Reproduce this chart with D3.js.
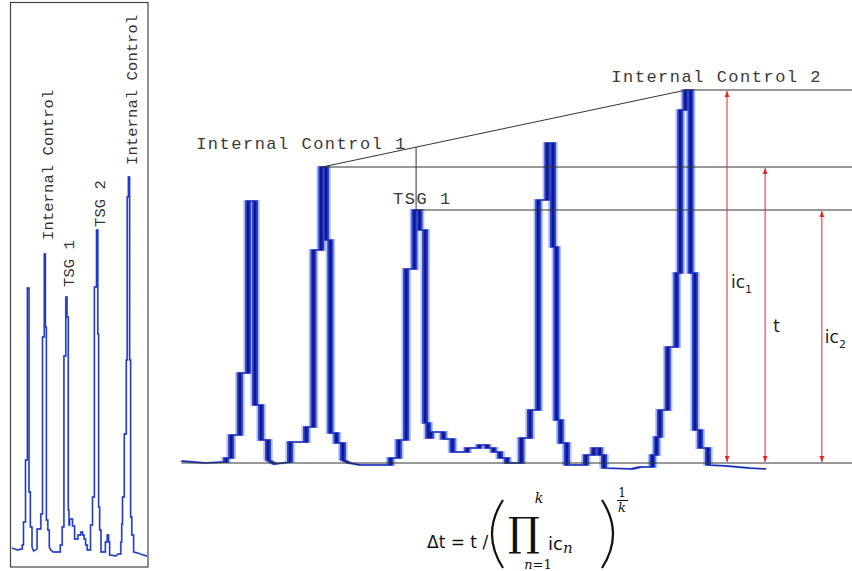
<!DOCTYPE html>
<html>
<head>
<meta charset="utf-8">
<script src="https://cdn.jsdelivr.net/npm/d3@7"></script>
<style>
  body { margin: 0; background: #fff; }
</style>
</head>
<body>
<svg width="852" height="571"></svg>
<script>
// ---- data (scan index vs signal) ----
const scan = [0, 5.5, 9.4, 10.3, 10.3, 11.5, 11.5, 13.5, 13.5, 15.4, 15.4, 17.0, 17.0, 18.4, 18.4, 20.0, 20.0, 21.6, 23.5,
  25.1, 25.1, 28.8, 28.8, 30.5, 30.5, 32.3, 32.3, 33.4, 33.4, 34.4, 34.4, 35.8, 35.8, 37.3, 37.3, 38.8, 41.3,
  48.3, 48.3, 50.2, 50.2, 51.9, 51.9, 53.8, 53.8, 55.0, 55.0, 56.3, 56.3, 57.0, 57.0, 57.6, 57.6, 60.5, 60.5,
  62.6, 62.6, 66.0, 66.0, 68.8, 68.8, 70.6, 70.6, 72.1, 72.1, 73.6, 73.6, 75.2, 75.2, 78.5,
  78.5, 80.5, 80.5, 82.4, 82.4, 84.5, 84.5, 85.8, 85.8, 86.6, 86.6, 87.6, 87.6, 89.0, 89.0, 93.4, 93.4, 95.2, 95.2,
  96.6, 96.6, 97.6, 97.6, 104, 106, 108.8, 108.8, 109.7, 109.7, 110.5, 110.5, 112.3, 112.3, 114.3, 114.3,
  115.2, 115.2, 116.4, 116.4, 117.6, 117.6, 118.6, 118.6, 119.8, 119.8, 121.6, 121.6, 126, 131, 135];
const signal = [2, 0, 1, 1, 5, 5, 28, 28, 90, 90, 262, 262, 58, 58, 23, 23, 3, -1, 0,
  1, 21, 21, 36, 36, 213, 213, 296, 296, 223, 223, 30, 30, 20, 20, 3, 0, -2,
  -2, 5, 5, 23, 23, 194, 194, 253, 253, 233, 233, 40, 40, 25, 25, 31, 31, 24,
  24, 11, 11, 15, 15, 18, 18, 15, 15, 11, 11, 5, 5, 0, 0,
  25, 25, 53, 53, 263, 263, 320, 320, 216, 216, 43, 43, 20, 20, -2, -2, 8, 8, 15,
  15, 8, 8, -5, -6, -4, -4, 8, 8, 26, 26, 53, 53, 116, 116, 190,
  190, 353, 353, 373, 373, 190, 190, 33, 33, 15, 15, -2, -3, -5, -6];

// peaks named in the inset
const insetNames = ["Internal Control", "TSG 1", "TSG 2", "Internal Control"];
const insetScan = [32.5, 54.0, 84.8, 116.6];
const insetTop = [296, 253, 320, 373];

// peaks named in the main panel
const mainNames = ["Internal Control 1", "TSG 1", "Internal Control 2"];
const mainScan = [32.5, 54.2, 116.6];
const mainTop = [296, 253, 373];

// measured heights (red arrows)
const arrowNames = ["ic", "t", "ic"];
const arrowSubs = ["1", "", "2"];
const arrowScan = [126.0, 134.8, 147.9];
const arrowTop = [373, 296, 253];

const trace = scan.map((s, i) => [s, signal[i]]);

const svg = d3.select("svg");
const W = 852;

// scales
const xIn = d3.scaleLinear().domain([0, 135]).range([12, 147]);
const yIn = d3.scaleLinear().domain([0, 400]).range([550, 150]);
const xMain = d3.scaleLinear().domain([0, 135]).range([181.4, 766]);
const yMain = d3.scaleLinear().domain([0, 400]).range([463, 63]);
const k = (xMain(135) - xMain(0)) / (xIn(135) - xIn(0));

const lineIn = d3.line().x(d => xIn(d[0])).y(d => yIn(d[1]));
const lineMainRaw = d3.line().x(d => xIn(d[0])).y(d => yMain(d[1]));

// ===== inset =====
svg.append("rect")
  .attr("x", 10.5).attr("y", 2.5).attr("width", 137.5).attr("height", 564.5)
  .attr("fill", "none").attr("stroke", "#444").attr("stroke-width", 1.2);

const layers = [["#a9b9f2", 2.0], ["#2a4ddc", 1.3], ["#1a1a90", 0.4]];
layers.forEach(([c, w]) => {
  svg.append("path").datum(trace).attr("d", lineIn)
    .attr("fill", "none").attr("stroke", c).attr("stroke-width", w);
});

const insetDy = [-14, -10, -3, -12];
insetNames.forEach((n, i) => {
  const x = xIn(insetScan[i]) + 8, y = yIn(insetTop[i]) + insetDy[i];
  svg.append("text")
    .attr("transform", `translate(${x},${y}) rotate(-90)`)
    .style("font-family", "'Liberation Mono', 'Courier New', monospace")
    .style("font-size", "15.5px").style("letter-spacing", "0.1px")
    .attr("fill", "#333").text(n);
});

// ===== main panel =====
const gm = svg.append("g")
  .attr("transform", `translate(${xMain(0) - k * xIn(0)},0) scale(${k},1)`);
[["#b4c2f4", 2.2], ["#2846d8", 1.4], ["#16168a", 0.6]].forEach(([c, w]) => {
  gm.append("path").datum(trace).attr("d", lineMainRaw)
    .attr("fill", "none").attr("stroke", c).attr("stroke-width", w);
});

const ink = "#333";
// baseline
svg.append("line").attr("x1", xMain(0)).attr("x2", W)
  .attr("y1", yMain(0)).attr("y2", yMain(0)).attr("stroke", ink).attr("stroke-width", 1);

// horizontal level lines from each labelled peak
mainScan.forEach((s, i) => {
  svg.append("line").attr("x1", xMain(s)).attr("x2", W)
    .attr("y1", yMain(mainTop[i])).attr("y2", yMain(mainTop[i]))
    .attr("stroke", ink).attr("stroke-width", 1);
});
// slanted line between the two internal controls
svg.append("line")
  .attr("x1", xMain(mainScan[0])).attr("y1", yMain(mainTop[0]))
  .attr("x2", xMain(mainScan[2])).attr("y2", yMain(mainTop[2]))
  .attr("stroke", ink).attr("stroke-width", 1);
// vertical from TSG 1 up to the slanted line
const frac = (mainScan[1] - mainScan[0]) / (mainScan[2] - mainScan[0]);
const hOnLine = mainTop[0] + frac * (mainTop[2] - mainTop[0]);
svg.append("line")
  .attr("x1", xMain(mainScan[1])).attr("x2", xMain(mainScan[1]))
  .attr("y1", yMain(hOnLine)).attr("y2", yMain(mainTop[1]))
  .attr("stroke", ink).attr("stroke-width", 1);

const mainDx = [-126, -23, -75], mainDy = [-18, -6, -8];
mainNames.forEach((n, i) => {
  svg.append("text")
    .attr("x", xMain(mainScan[i]) + mainDx[i]).attr("y", yMain(mainTop[i]) + mainDy[i])
    .style("font-family", "'Liberation Mono', 'Courier New', monospace")
    .style("font-size", "17px").style("letter-spacing", "1.5px")
    .attr("fill", "#3a3a3a").text(n);
});

// red arrows
const red = "#e02828";
const defs = svg.append("defs");
defs.append("marker").attr("id", "ah").attr("viewBox", "0 0 10 10")
  .attr("refX", 10).attr("refY", 5).attr("markerWidth", 6).attr("markerHeight", 6)
  .attr("orient", "auto-start-reverse")
  .append("path").attr("d", "M0,1 L10,5 L0,9 z").attr("fill", red);

const lblDx = [4, 8, 3], lblY = [288, 332, 343];
arrowScan.forEach((s, i) => {
  svg.append("line")
    .attr("x1", xMain(s)).attr("x2", xMain(s))
    .attr("y1", yMain(arrowTop[i]) + 1).attr("y2", yMain(0) - 1)
    .attr("stroke", red).attr("stroke-width", 1)
    .attr("marker-start", "url(#ah)").attr("marker-end", "url(#ah)");
  const t = svg.append("text")
    .attr("x", xMain(s) + lblDx[i]).attr("y", lblY[i])
    .style("font-family", "'DejaVu Sans', sans-serif").style("font-size", "17px")
    .attr("fill", "#222").text(arrowNames[i]);
  if (arrowSubs[i]) t.append("tspan").attr("dy", 5).style("font-size", "11px").text(arrowSubs[i]);
});

// ===== formula =====
const fg = svg.append("g").attr("fill", "#111");
fg.append("text").attr("x", 427).attr("y", 548)
  .style("font-family", "'DejaVu Sans', sans-serif").style("font-size", "17px")
  .text("Δt = t /");
fg.append("path").attr("d", "M503,500 Q481,534 503,568")
  .attr("fill", "none").attr("stroke", "#111").attr("stroke-width", 2.2);
fg.append("path").attr("d", "M602,500 Q624,534 602,568")
  .attr("fill", "none").attr("stroke", "#111").attr("stroke-width", 2.2);
fg.append("text").attr("x", 524).attr("y", 546).attr("text-anchor", "middle")
  .style("font-family", "'DejaVu Serif', serif").style("font-size", "40px").text("∏");
fg.append("text").attr("x", 539).attr("y", 503).attr("text-anchor", "middle")
  .style("font-family", "'DejaVu Serif', serif").style("font-style", "italic").style("font-size", "14px").text("k");
fg.append("text").attr("x", 538).attr("y", 569).attr("text-anchor", "middle")
  .style("font-family", "'DejaVu Serif', serif").style("font-size", "13px")
  .html("<tspan font-style='italic'>n</tspan>=1");
const ic = fg.append("text").attr("x", 548).attr("y", 550)
  .style("font-family", "'DejaVu Sans', sans-serif").style("font-size", "18px").text("ic");
ic.append("tspan").attr("dy", 3).style("font-family", "'DejaVu Serif', serif")
  .style("font-style", "italic").style("font-size", "15px").text("n");
fg.append("text").attr("x", 622).attr("y", 497).attr("text-anchor", "middle")
  .style("font-family", "'DejaVu Serif', serif").style("font-size", "12px").text("1");
fg.append("line").attr("x1", 617).attr("x2", 628).attr("y1", 500.5).attr("y2", 500.5)
  .attr("stroke", "#111").attr("stroke-width", 1);
fg.append("text").attr("x", 622).attr("y", 512).attr("text-anchor", "middle")
  .style("font-family", "'DejaVu Serif', serif").style("font-style", "italic").style("font-size", "13px").text("k");
</script>
</body>
</html>
